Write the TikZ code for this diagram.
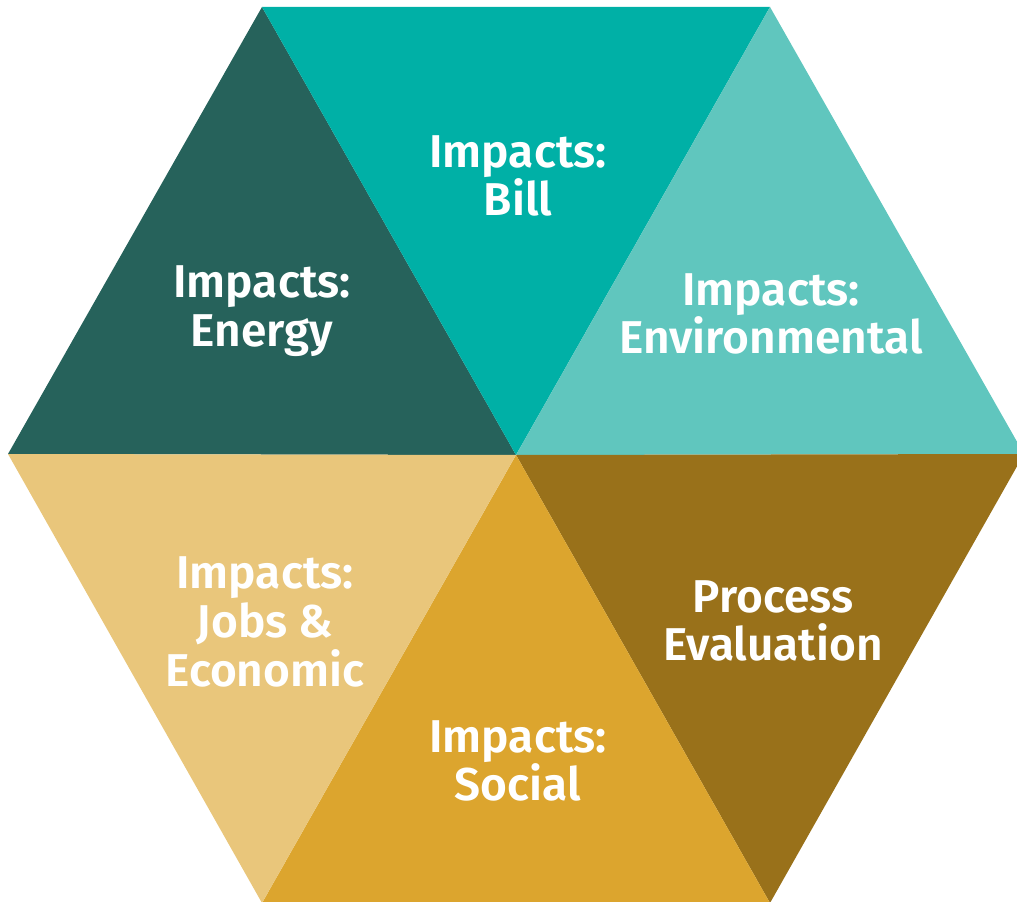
\documentclass[tikz,border=0pt]{standalone}
\usepackage{fontspec}
\setmainfont{Fira Sans}[BoldFont={* SemiBold}]
\definecolor{cdark}{HTML}{26625B}
\definecolor{cteal}{HTML}{00B0A6}
\definecolor{clight}{HTML}{60C6BE}
\definecolor{ctan}{HTML}{E9C67B}
\definecolor{cgold}{HTML}{DCA52E}
\definecolor{cbrown}{HTML}{99711A}
\begin{document}
\begin{tikzpicture}[x=0.75pt,y=-0.75pt,
  lbl/.style={text=white,align=center,font=\fontsize{34.5}{36.5}\selectfont\bfseries,inner sep=0pt}]
\useasboundingbox (0,0) rectangle (1017,902);
\clip (0,0) rectangle (1017,902);
\coordinate (L) at (8,454);
\coordinate (TL) at (262,7);
\coordinate (TR) at (770,7);
\coordinate (R) at (1024,454);
\coordinate (BR) at (770,903);
\coordinate (BL) at (262,903);
\coordinate (C) at (516,455);
\fill[cdark] (L) -- (TL) -- (C) -- cycle;
\fill[cteal] (TL) -- (TR) -- (C) -- cycle;
\fill[clight] (TR) -- (R) -- (C) -- cycle;
\fill[cbrown] (R) -- (BR) -- (C) -- cycle;
\fill[cgold] (BR) -- (BL) -- (C) -- cycle;
\fill[ctan] (BL) -- (L) -- (C) -- cycle;
\node[lbl] (bill) at (518,176) {Impacts:\\Bill};
\node[lbl] (energy) at (262,311) {Impacts:\\Energy};
\node[lbl] (env) at (771,314) {Impacts:\\Environmental};
\node[lbl] (jobs) at (265,622) {Impacts:\\Jobs \&\\Economic};
\node[lbl] (proc) at (773,621) {Process\\Evaluation};
\node[lbl] (social) at (518,761) {Impacts:\\Social};
\end{tikzpicture}
\end{document}
